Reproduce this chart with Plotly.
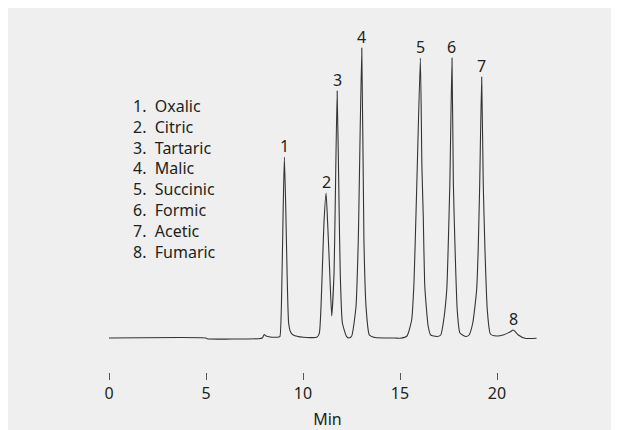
import plotly.graph_objects as go

# Chromatogram trace (time in min, detector signal in arbitrary units)
time_min = [0.00, 5.00, 5.05, 7.70, 7.90, 8.00, 8.10, 8.30, 8.60, 8.75,
            8.81, 8.92, 8.98, 9.04, 9.11, 9.18, 9.26, 9.36, 9.50, 10.02, 10.71,
            10.84, 10.99, 11.08, 11.19, 11.27, 11.38, 11.48,
            11.60, 11.66, 11.76, 11.86, 11.92, 12.03, 12.25, 12.37,
            12.51, 12.73, 12.85, 13.03, 13.14, 13.25, 13.42, 13.71, 14.74,
            15.00, 15.36, 15.60, 15.72, 15.82, 15.89, 16.05, 16.13, 16.20, 16.27, 16.36, 16.45, 16.58, 16.89,
            17.10, 17.23, 17.41, 17.48, 17.57, 17.68, 17.75, 17.84, 17.95, 18.09, 18.40,
            18.56, 18.75, 18.95, 19.03, 19.11, 19.21, 19.29, 19.38, 19.50, 19.66, 19.98,
            20.32, 20.67, 20.84, 21.10, 21.44, 22.04]
signal = [0.0, 0.0, -0.7, -0.7, 0.0, 3.5, 2.0, 1.0, 0.7, 1.0,
          1.3, 65, 131, 181, 131, 65, 15, 6, 3, 0.7, 0.7,
          4.7, 65, 115, 145, 115, 65, 22,
          65, 131, 247, 131, 65, 15, 1.3, 0.0,
          2, 31, 98, 290, 98, 31, 3, 0.5, 0.0,
          -0.3, 2, 18, 55, 121, 171, 280, 171, 121, 55, 30, 12, 3, 1.5,
          3, 15, 48, 88, 155, 280, 155, 88, 28, 5, 1.5,
          3, 15, 48, 88, 155, 261, 155, 88, 28, 4, 2,
          3, 6, 8, 3, -0.3, -0.3]

# Peak identification
peak_labels = ["1", "2", "3", "4", "5", "6", "7", "8"]
peak_times = [9.04, 11.19, 11.76, 13.03, 16.05, 17.68, 19.21, 20.84]
peak_heights = [181, 145, 247, 290, 280, 280, 261, 8]
compound_names = ["Oxalic", "Citric", "Tartaric", "Malic", "Succinic", "Formic", "Acetic", "Fumaric"]

x_ticks = [0, 5, 10, 15, 20]
x_title = "Min"

FONT = "Noto Sans"
TXT = "#231f20"
W, H = 619, 430
ML, MR, MT, MB = 80, 60, 20, 66
PX_PER_MIN = 19.4
X0_PX = 101

fig = go.Figure()
fig.add_trace(go.Scatter(
    x=time_min, y=signal, mode="lines",
    line=dict(color="#333333", width=1.1, shape="spline", smoothing=0.5),
    hoverinfo="skip", showlegend=False))

for lab, t, h in zip(peak_labels, peak_times, peak_heights):
    fig.add_annotation(x=t, y=h, text=lab, showarrow=False, yanchor="middle",
                       yshift=11, font=dict(family=FONT, size=16, color=TXT))

legend_text = "<br>".join(f"{i + 1}.\u00a0\u00a0{n}" for i, n in enumerate(compound_names))
fig.add_annotation(x=1.15, y=233, text=legend_text, showarrow=False,
                   xanchor="left", yanchor="middle", align="left",
                   yshift=-74, font=dict(family=FONT, size=16, color=TXT))

fig.update_layout(
    width=W, height=H,
    margin=dict(l=ML, r=MR, t=MT, b=MB),
    paper_bgcolor="#efefef", plot_bgcolor="#efefef",
    font=dict(family=FONT, size=16, color=TXT),
    xaxis=dict(range=[(ML - X0_PX) / PX_PER_MIN, (W - MR - X0_PX) / PX_PER_MIN],
               tickvals=x_ticks, ticks="outside", ticklen=7, tickwidth=1,
               tickcolor="#555555", showline=False, showgrid=False, zeroline=False,
               tickfont=dict(family=FONT, size=16, color=TXT),
               title=dict(text=x_title, standoff=10, font=dict(family=FONT, size=16, color=TXT))),
    yaxis=dict(range=[-34, 310], visible=False),
)

fig.write_html("out.html")
